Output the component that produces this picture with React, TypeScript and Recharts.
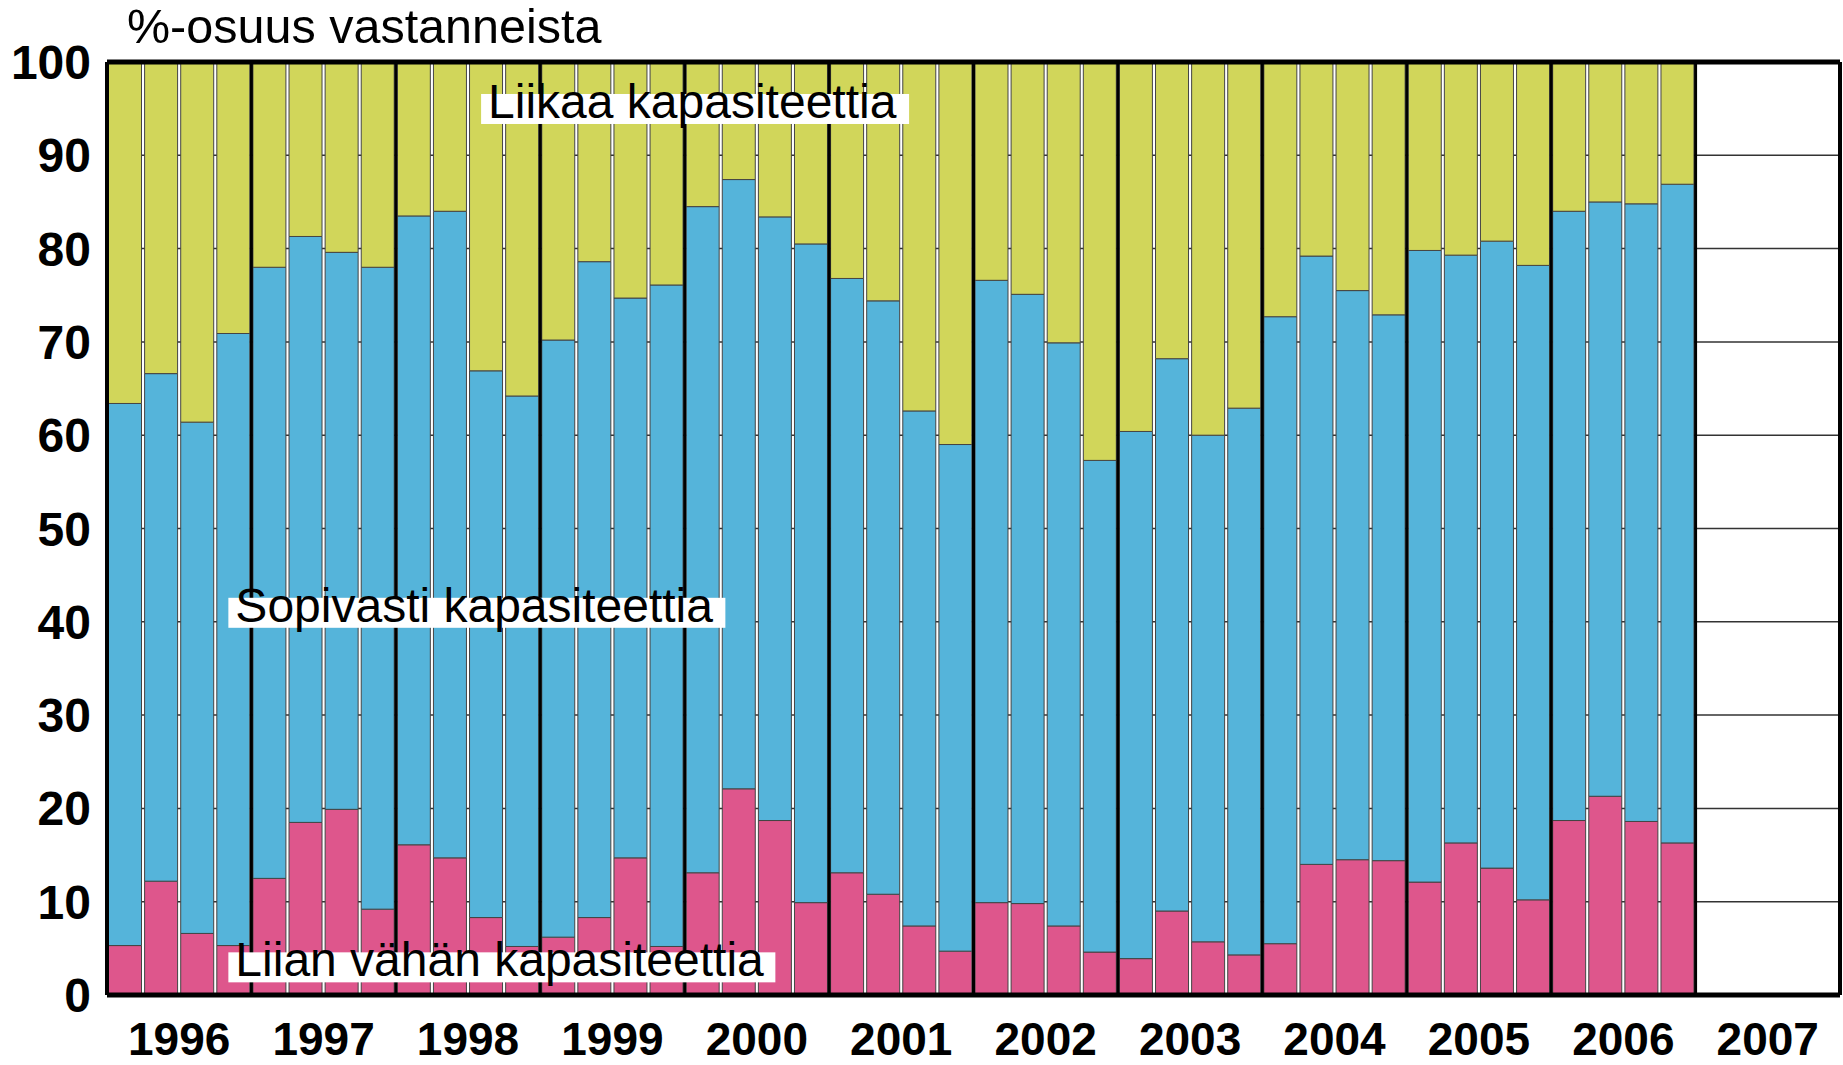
import React from 'react';
import { BarChart, Bar, XAxis, YAxis, CartesianGrid, ReferenceLine, ReferenceDot } from 'recharts';

const FONT = '"Liberation Sans", Arial, Helvetica, sans-serif';

const years = ['1996', '1997', '1998', '1999', '2000', '2001', '2002', '2003', '2004', '2005', '2006', '2007'];
const quarters = ['I', 'II', 'III', 'IV'];

// Liian vähän kapasiteettia (bottom, pink), 1996 Q1 .. 2006 Q4
const liianVahan = [
  5.3, 12.2, 6.6, 5.3,
  12.5, 18.5, 19.9, 9.2,
  16.1, 14.7, 8.3, 5.2,
  6.2, 8.3, 14.7, 5.2,
  13.1, 22.1, 18.7, 9.9,
  13.1, 10.8, 7.4, 4.7,
  9.9, 9.8, 7.4, 4.6,
  3.9, 9.0, 5.7, 4.3,
  5.5, 14.0, 14.5, 14.4,
  12.1, 16.3, 13.6, 10.2,
  18.7, 21.3, 18.6, 16.3,
];

// Sopivasti kapasiteettia (middle, blue)
const sopivasti = [
  58.1, 54.4, 54.8, 65.6,
  65.5, 62.8, 59.7, 68.8,
  67.4, 69.3, 58.6, 59.0,
  64.0, 70.3, 60.0, 70.9,
  71.4, 65.3, 64.7, 70.6,
  63.7, 63.6, 55.2, 54.3,
  66.7, 65.3, 62.5, 52.7,
  56.5, 59.2, 54.3, 58.6,
  67.2, 65.2, 61.0, 58.5,
  67.7, 63.0, 67.2, 68.0,
  65.3, 63.7, 66.2, 70.6,
];

// Liikaa kapasiteettia (top, yellow-green)
const liikaa = [
  36.6, 33.4, 38.6, 29.1,
  22.0, 18.7, 20.4, 22.0,
  16.5, 16.0, 33.1, 35.8,
  29.8, 21.4, 25.3, 23.9,
  15.5, 12.6, 16.6, 19.5,
  23.2, 25.6, 37.4, 41.0,
  23.4, 24.9, 30.1, 42.7,
  39.6, 31.8, 40.0, 37.1,
  27.3, 20.8, 24.5, 27.1,
  20.2, 20.7, 19.2, 21.8,
  16.0, 15.0, 15.2, 13.1,
];

const yTicks = [0, 10, 20, 30, 40, 50, 60, 70, 80, 90, 100];

const seriesLabels = [
  { text: 'Liikaa kapasiteettia', x: 10, y: 94, w: 428 },
  { text: 'Sopivasti kapasiteettia', x: 3, y: 40, w: 497 },
  { text: 'Liian vähän kapasiteettia', x: 3, y: 2, w: 547 },
];

const COLORS = { low: '#DE568C', mid: '#55B4DA', high: '#D1D65A' };

const data = liianVahan.map((v, i) => ({
  i,
  period: `${years[Math.floor(i / 4)]} ${quarters[i % 4]}`,
  low: v,
  mid: sopivasti[i],
  high: liikaa[i],
}));

const yearTicks = years.map((_, k) => k * quarters.length + (quarters.length - 1) / 2);
const yearBounds = years.slice(1).map((_, k) => (k + 1) * quarters.length - 0.5);
const xMin = -0.5;
const xMax = years.length * quarters.length - 0.5;

const makeLabelShape = (text: string, w: number) => (props: any) => {
  const { cx, cy } = props;
  return (
    <g>
      <rect x={cx - 5} y={cy - 24} width={w} height={30} fill="#fff" />
      <text x={cx + 2} y={cy} fontSize={48} fontFamily={FONT} fill="#000">
        {text}
      </text>
    </g>
  );
};

export default function App() {
  return (
    <div style={{ position: 'absolute', left: 0, top: 0, width: 1843, height: 1065, background: '#fff' }}>
      <div
        style={{
          position: 'absolute',
          left: 127,
          top: 2,
          fontFamily: FONT,
          fontSize: 48.5,
          lineHeight: 1,
          color: '#000',
          whiteSpace: 'nowrap',
        }}
      >
        %-osuus vastanneista
      </div>
      <BarChart
        width={1843}
        height={1065}
        data={data}
        margin={{ top: 62, right: 3, bottom: 0, left: 0 }}
        barCategoryGap={1.5}
        barGap={0}
      >
        <CartesianGrid horizontal vertical={false} stroke="#333" strokeWidth={1.5} />
        <XAxis
          dataKey="i"
          type="number"
          domain={[xMin, xMax]}
          ticks={yearTicks}
          tickFormatter={(v: number) => years[Math.round((v - 1.5) / 4)]}
          height={70}
          tickLine={false}
          tickMargin={21}
          axisLine={{ stroke: '#000', strokeWidth: 5 }}
          tick={{ fontSize: 46, fontWeight: 'bold', fill: '#000', fontFamily: FONT }}
          interval={0}
          allowDataOverflow
        />
        <YAxis
          type="number"
          domain={[0, 100]}
          ticks={yTicks}
          width={107}
          tickLine={false}
          tickMargin={10}
          axisLine={{ stroke: '#000', strokeWidth: 4 }}
          tick={{ fontSize: 48, fontWeight: 'bold', fill: '#000', fontFamily: FONT }}
          interval={0}
        />
        <Bar dataKey="low" stackId="a" fill={COLORS.low} stroke="#444" strokeWidth={1} isAnimationActive={false} />
        <Bar dataKey="mid" stackId="a" fill={COLORS.mid} stroke="#444" strokeWidth={1} isAnimationActive={false} />
        <Bar dataKey="high" stackId="a" fill={COLORS.high} stroke="#444" strokeWidth={1} isAnimationActive={false} />
        {yearBounds.map((b) => (
          <ReferenceLine key={b} x={b} stroke="#000" strokeWidth={3} />
        ))}
        <ReferenceLine y={100} stroke="#000" strokeWidth={5} />
        <ReferenceLine x={xMax} stroke="#000" strokeWidth={4} />
        {seriesLabels.map((l) => (
          <ReferenceDot
            key={l.text}
            x={l.x}
            y={l.y}
            r={1}
            ifOverflow="visible"
            shape={makeLabelShape(l.text, l.w)}
          />
        ))}
      </BarChart>
    </div>
  );
}
